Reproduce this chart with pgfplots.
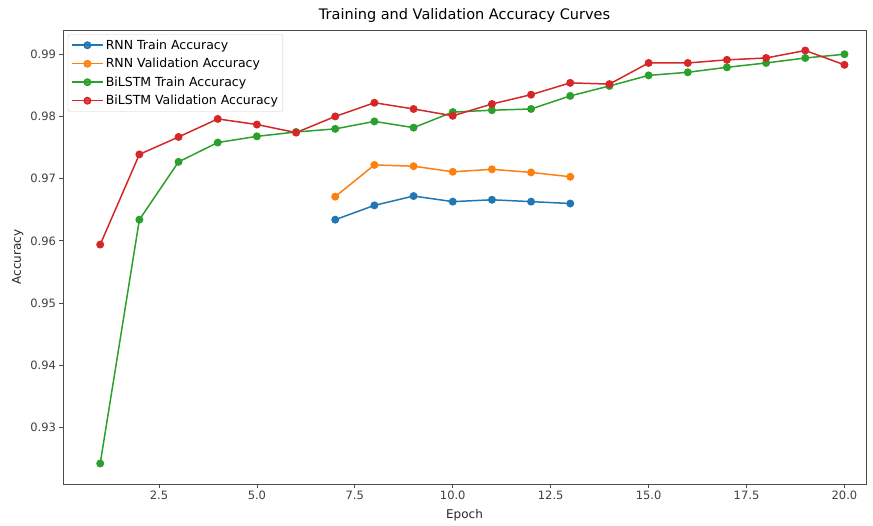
\documentclass[border=0pt]{standalone}
\usepackage{pgfplots}
\pgfplotsset{compat=1.18}
\usepackage{fontspec}
\setmainfont{DejaVu Sans}
\usetikzlibrary{calc}
\definecolor{c0}{HTML}{1F77B4}
\definecolor{c1}{HTML}{FF7F0E}
\definecolor{c2}{HTML}{2CA02C}
\definecolor{c3}{HTML}{D62728}
\begin{document}
\begin{tikzpicture}
\begin{axis}[
  name=ax,
  scale only axis,
  width=803pt, height=454pt,
  xmin=0.05, xmax=20.55,
  ymin=0.9209, ymax=0.9939,
  xtick={2.5,5,7.5,10,12.5,15,17.5,20},
  ytick={0.93,0.94,0.95,0.96,0.97,0.98,0.99},
  xticklabel style={/pgf/number format/.cd,fixed,fixed zerofill,precision=1,assume math mode=true},
  yticklabel style={/pgf/number format/.cd,fixed,fixed zerofill,precision=2,assume math mode=true},
  scaled y ticks=false,
  tick label style={font=\fontsize{11.5}{13}\selectfont, text=black!75},
  label style={font=\fontsize{12}{14}\selectfont, text=black!85},
  tick align=outside,
  xtick pos=bottom, ytick pos=left,
  major tick length=3.5pt,
  every tick/.style={black!70, line width=0.7pt},
  axis line style={black!70, line width=0.7pt},
  xlabel={Epoch}, ylabel={Accuracy},
  xlabel style={yshift=-3pt},
  ylabel style={yshift=0pt},
  title={Training and Validation Accuracy Curves},
  title style={font=\fontsize{14.5}{16}\selectfont, yshift=-2pt},
  legend cell align=left,
  legend image code/.code={
    \draw[mark repeat=2,mark phase=2] plot coordinates {(0cm,0cm) (0.55cm,0cm) (1.1cm,0cm)};},
  legend style={font=\fontsize{12.5}{14}\selectfont, draw=black!20, rounded corners=2pt, fill=white, fill opacity=0.8, text opacity=1, draw opacity=1, at={(0.006,0.99)}, anchor=north west, row sep=3.5pt, inner sep=3pt},
  every axis plot/.append style={line width=1.5pt, mark=*, mark size=3.2pt},
]
\addplot[c0, mark options={fill=c0}] coordinates {
(7,0.9634) (8,0.9657) (9,0.9672) (10,0.9663) (11,0.9666) (12,0.9663) (13,0.9660)};
\addlegendentry{RNN Train Accuracy}
\addplot[c1, mark options={fill=c1}] coordinates {
(7,0.9671) (8,0.9722) (9,0.9720) (10,0.9711) (11,0.9715) (12,0.9710) (13,0.9703)};
\addlegendentry{RNN Validation Accuracy}
\addplot[c2, mark options={fill=c2}] coordinates {
(1,0.9242) (2,0.9634) (3,0.9727) (4,0.9758) (5,0.9768) (6,0.9775) (7,0.9780)
(8,0.9792) (9,0.9782) (10,0.9807) (11,0.9810) (12,0.9812) (13,0.9833) (14,0.9849)
(15,0.9866) (16,0.9871) (17,0.9879) (18,0.9886) (19,0.9894) (20,0.9900)};
\addlegendentry{BiLSTM Train Accuracy}
\addplot[c3, mark options={fill=c3}] coordinates {
(1,0.9594) (2,0.9739) (3,0.9767) (4,0.9796) (5,0.9787) (6,0.9774) (7,0.9800)
(8,0.9822) (9,0.9812) (10,0.9801) (11,0.9820) (12,0.9835) (13,0.9854) (14,0.9852)
(15,0.9886) (16,0.9886) (17,0.9891) (18,0.9894) (19,0.9906) (20,0.9883)};
\addlegendentry{BiLSTM Validation Accuracy}
\end{axis}
\path[use as bounding box] ($(ax.south west)+(-63pt,-41pt)$) rectangle ($(ax.north east)+(7pt,30pt)$);
\end{tikzpicture}
\end{document}
